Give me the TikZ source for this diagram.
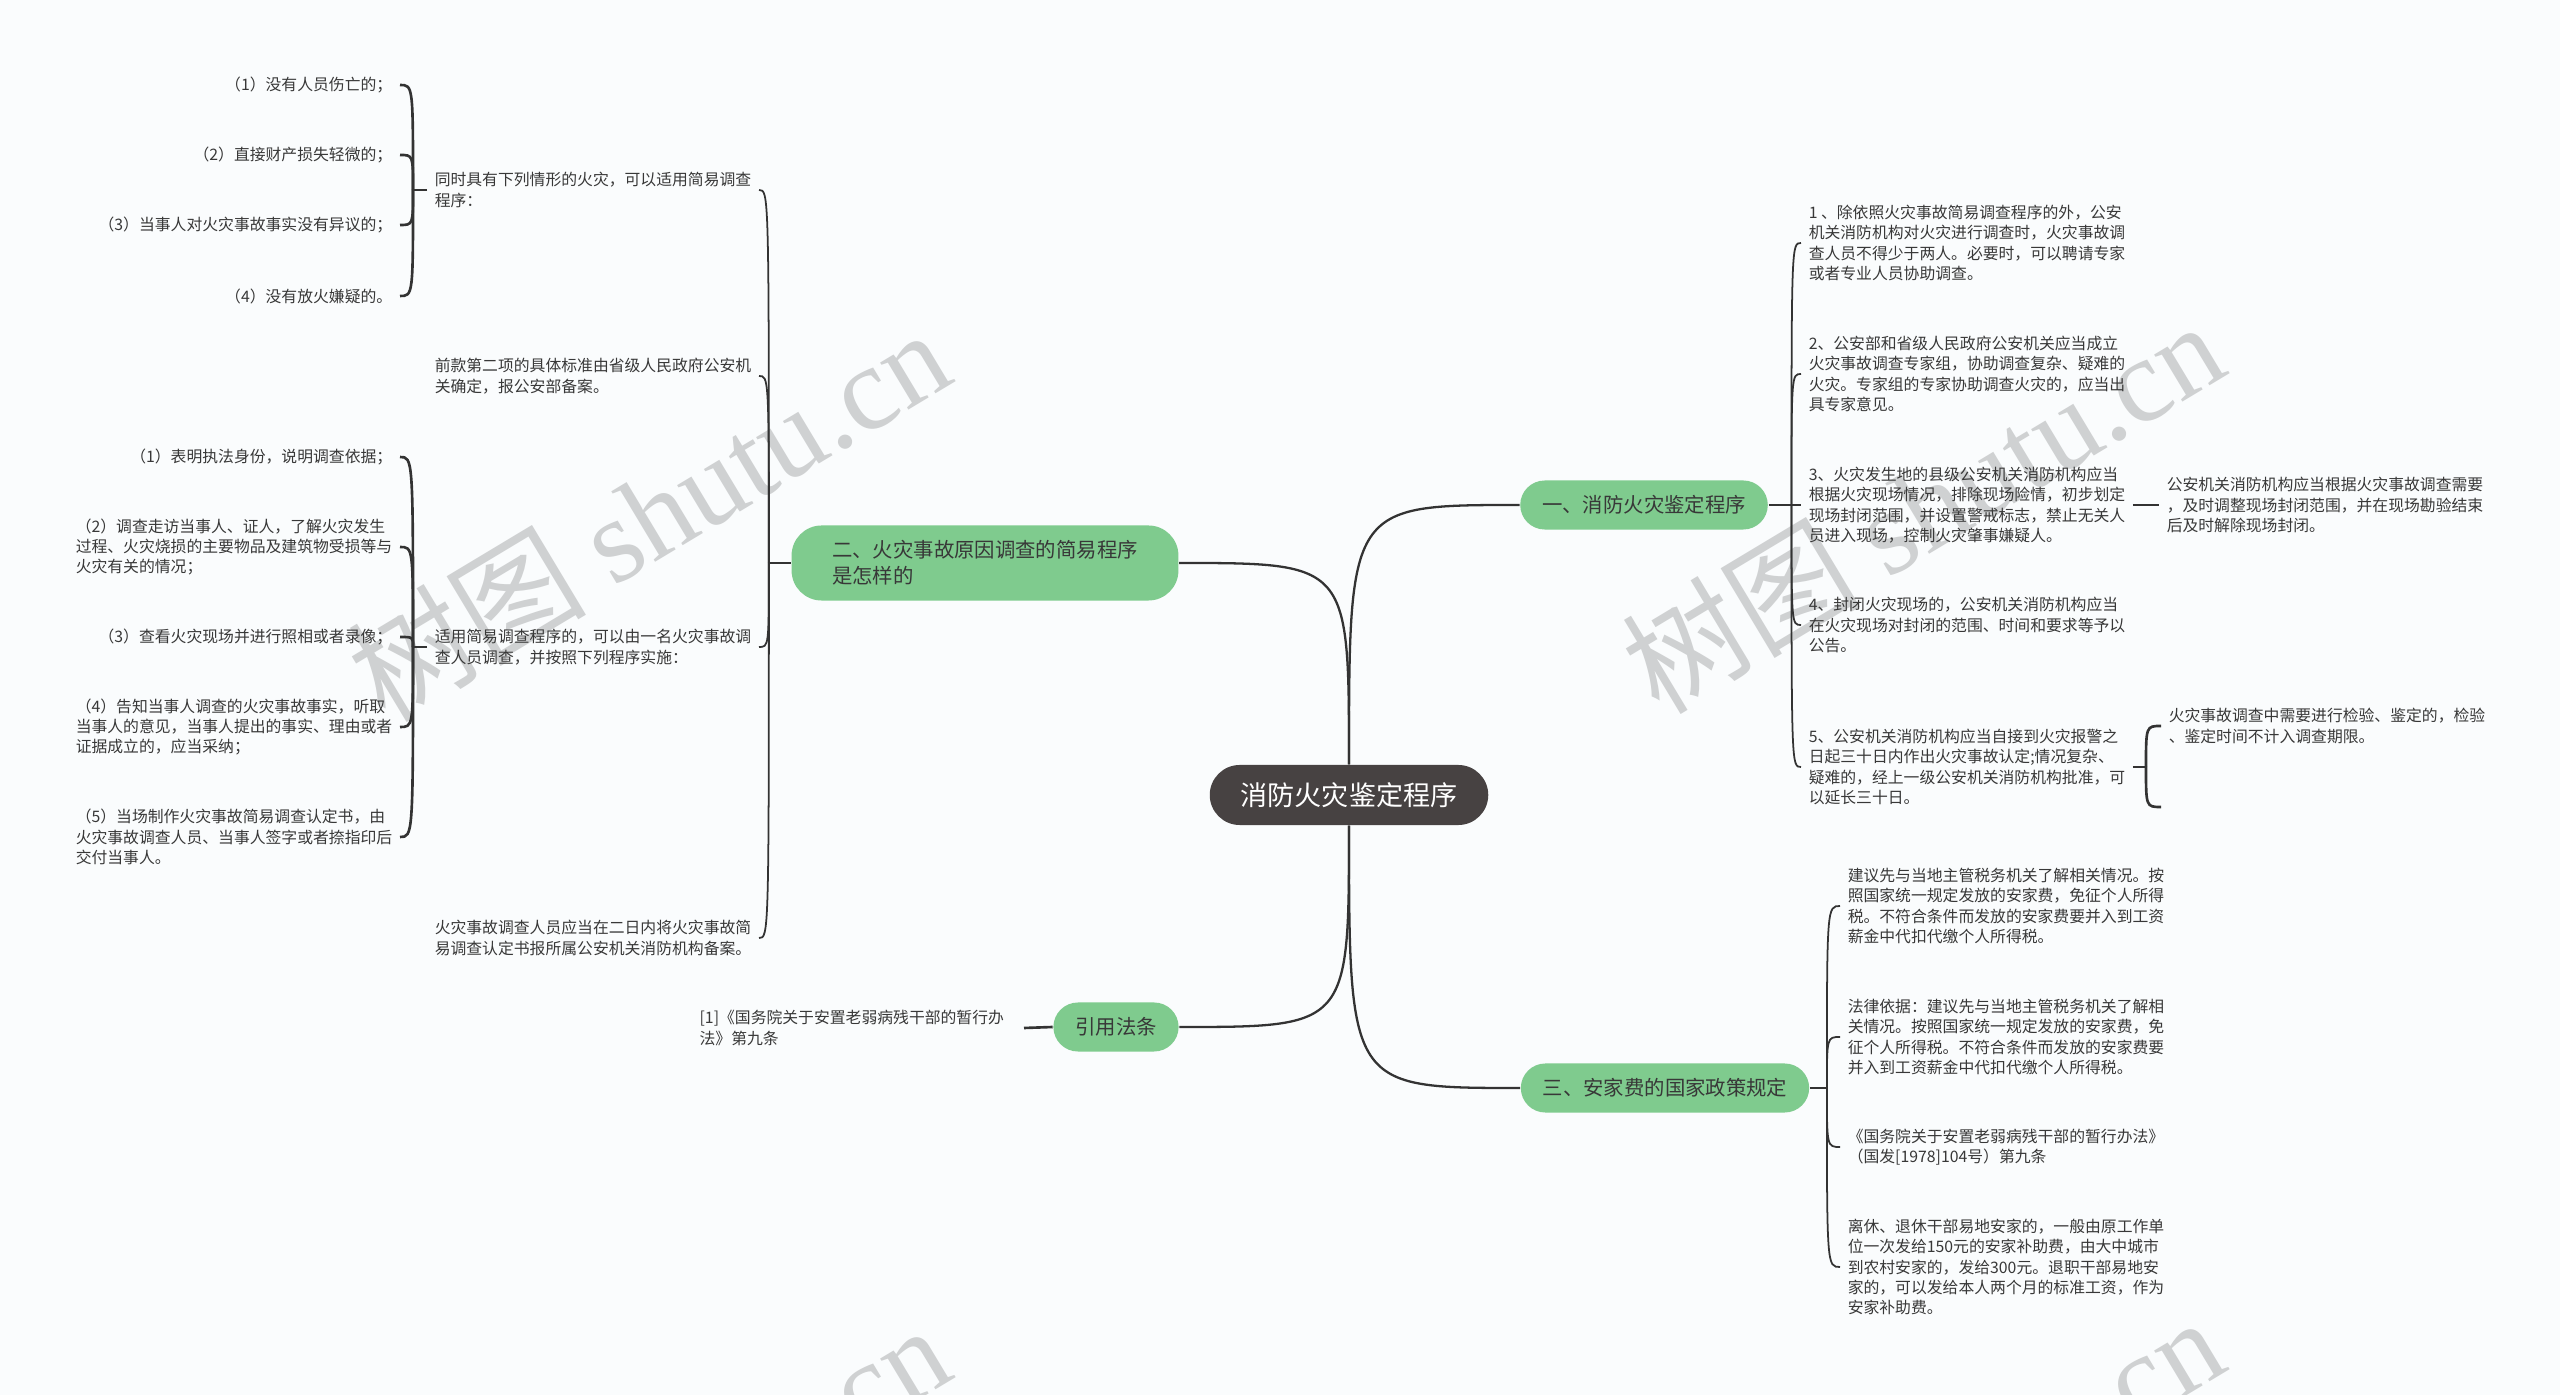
\documentclass[tikz,border=0pt]{standalone}
\usepackage{fontspec}
\setmainfont{Noto Sans CJK SC}
\newfontfamily\wmfont{Liberation Serif}
\usetikzlibrary{positioning,calc}
\definecolor{fhBg}{HTML}{FAFCFD}
\definecolor{fhGreen}{HTML}{7FCB8E}
\definecolor{fhDark}{HTML}{474242}
\definecolor{fhLine}{HTML}{333333}
\definecolor{fhText}{HTML}{383838}
\definecolor{fhMark}{HTML}{CFD1D2}
\tikzset{
  root/.style={rounded corners=0.3cm, fill=fhDark, text=white, minimum height=0.6cm,
              inner xsep=8.8pt, font=\fontsize{7.7}{9}\selectfont},
  topic/.style={rounded corners=0.245cm, fill=fhGreen, text=fhText, minimum height=0.49cm,
              inner xsep=6.2pt, align=left, font=\fontsize{5.8}{7.4}\selectfont},
  leaf/.style={text=fhText, align=left, inner xsep=2pt, inner ysep=1pt,
              font=\fontsize{4.5}{5.8}\selectfont},
  link/.style={draw=fhLine, line width=0.5pt},
  brace/.style={draw=fhLine, line width=0.75pt},
  trunk/.style={draw=fhLine, line width=0.65pt},
  wmark/.style={text=fhMark, rotate=31, font=\fontsize{34}{34}\selectfont},
}

\begin{document}
\begin{tikzpicture}[x=0.01cm,y=-0.01cm]
  \fill[fhBg] (0,0) rectangle (2560,1395);
  \useasboundingbox (0,0) rectangle (2560,1395);
  % watermark
  \begin{scope}
    \clip (0,0) rectangle (2560,1395);
    \foreach \x/\y in {648/514,1922/506,648/1510,1922/1502}{
      \node[wmark] (wm\x\y) at (\x,\y) {树图 {\wmfont shutu.cn}};
    }
  \end{scope}
  % main topics
  \node[root] (ctr) at (1349,795) {消防火灾鉴定程序};
  \node[topic] (b1) at (1644,505) {一、消防火灾鉴定程序};
  \node[topic, inner xsep=11.5pt, minimum height=0.75cm, rounded corners=0.3cm] (b2) at (985,563)
    {二、火灾事故原因调查的简易程序\\是怎样的};
  \node[topic] (bref) at (1116,1027) {引用法条};
  \node[topic] (b3) at (1665,1088) {三、安家费的国家政策规定};
  \draw[trunk] (ctr.north) .. controls (ctr.north |- b1.west) .. (b1.west);
  \draw[trunk] (ctr.north) .. controls (ctr.north |- b2.east) .. (b2.east);
  \draw[trunk] (ctr.south) .. controls (ctr.south |- bref.east) .. (bref.east);
  \draw[trunk] (ctr.south) .. controls (ctr.south |- b3.west) .. (b3.west);

  % branch one
  \node[leaf, anchor=west] (r1) at (1801,243) {1 、除依照火灾事故简易调查程序的外，公安\\机关消防机构对火灾进行调查时，火灾事故调\\查人员不得少于两人。必要时，可以聘请专家\\或者专业人员协助调查。};
  \node[leaf, anchor=west] (r2) at (1801,374) {2、公安部和省级人民政府公安机关应当成立\\火灾事故调查专家组，协助调查复杂、疑难的\\火灾。专家组的专家协助调查火灾的，应当出\\具专家意见。};
  \node[leaf, anchor=west] (r3) at (1801,505) {3、火灾发生地的县级公安机关消防机构应当\\根据火灾现场情况，排除现场险情，初步划定\\现场封闭范围，并设置警戒标志，禁止无关人\\员进入现场，控制火灾肇事嫌疑人。};
  \node[leaf, anchor=west] (r4) at (1801,625) {4、封闭火灾现场的，公安机关消防机构应当\\在火灾现场对封闭的范围、时间和要求等予以\\公告。};
  \node[leaf, anchor=west] (r5) at (1801,767) {5、公安机关消防机构应当自接到火灾报警之\\日起三十日内作出火灾事故认定;情况复杂、\\疑难的，经上一级公安机关消防机构批准，可\\以延长三十日。};
  \coordinate (k1) at ([xshift=0.23cm]b1.east);
  \draw[link] (b1.east) -- (k1);
  \foreach \n in {r1,r2,r3,r4,r5}{
    \draw[link] (k1) .. controls (k1 |- \n.west) .. (\n.west);
  }
  \node[leaf, anchor=west] (r3c) at (2159,505) {公安机关消防机构应当根据火灾事故调查需要\\，及时调整现场封闭范围，并在现场勘验结束\\后及时解除现场封闭。};
  \draw[brace] (r3.east) -- (r3c.west);
  \node[leaf, anchor=west] (r5c) at (2161,726) {火灾事故调查中需要进行检验、鉴定的，检验\\、鉴定时间不计入调查期限。};
  \coordinate (r5e) at (2161,807);
  \coordinate (k15) at ([xshift=0.13cm]r5.east);
  \draw[brace] (r5.east) -- (k15);
  \draw[brace] (k15) .. controls (k15 |- r5c.west) .. (r5c.west);
  \draw[brace] (k15) .. controls (k15 |- r5e) .. (r5e);

  % branch two
  \node[leaf, anchor=east] (c1) at (759,190) {同时具有下列情形的火灾，可以适用简易调查\\程序：};
  \node[leaf, anchor=east] (c2) at (759,376) {前款第二项的具体标准由省级人民政府公安机\\关确定，报公安部备案。};
  \node[leaf, anchor=east] (c3) at (759,647) {适用简易调查程序的，可以由一名火灾事故调\\查人员调查，并按照下列程序实施：};
  \node[leaf, anchor=east] (c4) at (759,938) {火灾事故调查人员应当在二日内将火灾事故简\\易调查认定书报所属公安机关消防机构备案。};
  \coordinate (k2) at ([xshift=-0.22cm]b2.west);
  \draw[link] (b2.west) -- (k2);
  \foreach \n in {c1,c2,c3,c4}{
    \draw[link] (k2) .. controls (k2 |- \n.east) .. (\n.east);
  }
  % conditions
  \node[leaf, anchor=east] (c1a) at (400,85) {（1）没有人员伤亡的；};
  \node[leaf, anchor=east] (c1b) at (400,155) {（2）直接财产损失轻微的；};
  \node[leaf, anchor=east] (c1c) at (400,225) {（3）当事人对火灾事故事实没有异议的；};
  \node[leaf, anchor=east] (c1d) at (400,296) {（4）没有放火嫌疑的。};
  \coordinate (k21) at ([xshift=-0.14cm]c1.west);
  \draw[brace] (c1.west) -- (k21);
  \foreach \n in {c1a,c1b,c1c,c1d}{
    \draw[brace] (k21) .. controls (k21 |- \n.east) .. (\n.east);
  }
  % steps
  \node[leaf, anchor=east] (c3a) at (400,457) {（1）表明执法身份，说明调查依据；};
  \node[leaf, anchor=east] (c3b) at (400,547) {（2）调查走访当事人、证人，了解火灾发生\\过程、火灾烧损的主要物品及建筑物受损等与\\火灾有关的情况；};
  \node[leaf, anchor=east] (c3c) at (400,637) {（3）查看火灾现场并进行照相或者录像；};
  \node[leaf, anchor=east] (c3d) at (400,727) {（4）告知当事人调查的火灾事故事实，听取\\当事人的意见，当事人提出的事实、理由或者\\证据成立的，应当采纳；};
  \node[leaf, anchor=east] (c3e) at (400,837) {（5）当场制作火灾事故简易调查认定书，由\\火灾事故调查人员、当事人签字或者捺指印后\\交付当事人。};
  \coordinate (k23) at ([xshift=-0.14cm]c3.west);
  \draw[brace] (c3.west) -- (k23);
  \foreach \n in {c3a,c3b,c3c,c3d,c3e}{
    \draw[brace] (k23) .. controls (k23 |- \n.east) .. (\n.east);
  }

  % reference
  \node[leaf, anchor=east, inner xsep=5.5pt] (refc) at (1024,1028) {[1]《国务院关于安置老弱病残干部的暂行办\\法》第九条};
  \draw[brace] (bref.west) -- (refc.east);

  % branch three
  \node[leaf, anchor=west] (s1) at (1840,906) {建议先与当地主管税务机关了解相关情况。按\\照国家统一规定发放的安家费，免征个人所得\\税。不符合条件而发放的安家费要并入到工资\\薪金中代扣代缴个人所得税。};
  \node[leaf, anchor=west] (s2) at (1840,1037) {法律依据：建议先与当地主管税务机关了解相\\关情况。按照国家统一规定发放的安家费，免\\征个人所得税。不符合条件而发放的安家费要\\并入到工资薪金中代扣代缴个人所得税。};
  \node[leaf, anchor=west] (s3) at (1840,1147) {《国务院关于安置老弱病残干部的暂行办法》\\（国发[1978]104号）第九条};
  \node[leaf, anchor=west] (s4) at (1840,1267) {离休、退休干部易地安家的，一般由原工作单\\位一次发给150元的安家补助费，由大中城市\\到农村安家的，发给300元。退职干部易地安\\家的，可以发给本人两个月的标准工资，作为\\安家补助费。};
  \coordinate (k3) at ([xshift=0.17cm]b3.east);
  \draw[link] (b3.east) -- (k3);
  \foreach \n in {s1,s2,s3,s4}{
    \draw[link] (k3) .. controls (k3 |- \n.west) .. (\n.west);
  }
\end{tikzpicture}
\end{document}
